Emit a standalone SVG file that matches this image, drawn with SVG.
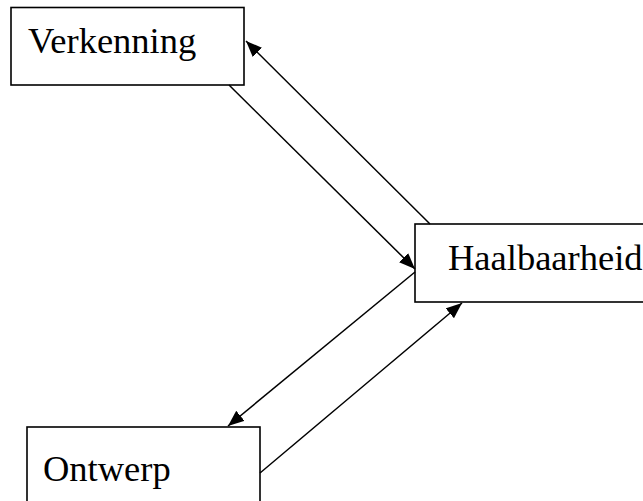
<svg xmlns="http://www.w3.org/2000/svg" width="643" height="501" viewBox="0 0 643 501">
<style>
.box{fill:#fff;stroke:#000;stroke-width:1.6}
.lbl{font-family:"Liberation Serif","Times New Roman",serif;font-size:36.5px;fill:#000}
.con{stroke:#000;stroke-width:1.5;fill:none;marker-end:url(#ah)}
</style>
<defs>
<marker id="ah" markerUnits="userSpaceOnUse" markerWidth="18" markerHeight="14" refX="16" refY="6.5" orient="auto">
<path d="M0,0 L16,6.5 L0,13 Z" fill="#000"/>
</marker>
</defs>
<rect width="643" height="501" fill="#fff"/>
<g id="verkenning">
<rect class="box" x="11" y="7.5" width="233" height="77.5"/>
<text class="lbl" x="28" y="53">Verkenning</text>
</g>
<g id="haalbaarheid">
<rect class="box" x="415" y="224" width="240" height="78"/>
<text class="lbl" x="448" y="270">Haalbaarheid</text>
</g>
<g id="ontwerp">
<rect class="box" x="27" y="427" width="233" height="90"/>
<text class="lbl" x="43" y="481">Ontwerp</text>
</g>
<g id="connectors">
<line class="con" x1="229" y1="85" x2="415" y2="269"/>
<line class="con" x1="430" y1="224" x2="246" y2="41"/>
<line class="con" x1="415" y1="272" x2="228" y2="426"/>
<line class="con" x1="260" y1="473" x2="462" y2="303"/>
</g>
</svg>
